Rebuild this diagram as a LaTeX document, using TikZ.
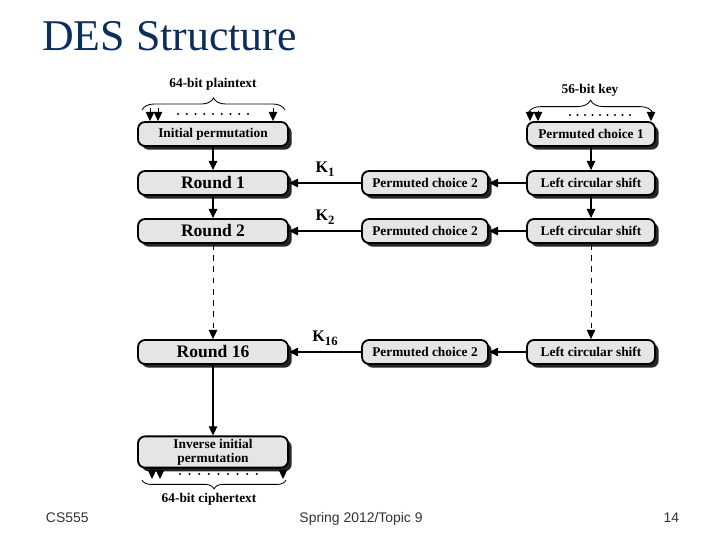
\documentclass[tikz,border=0pt]{standalone}
\usepackage{fontspec}
\setmainfont{Liberation Serif}
\newfontfamily\footfont{Liberation Sans}
\usetikzlibrary{arrows.meta,decorations.pathreplacing,shadows}
\definecolor{titleblue}{RGB}{12,46,92}
\definecolor{boxgray}{RGB}{229,229,229}
\definecolor{footgray}{RGB}{50,50,50}

\begin{document}
\begin{tikzpicture}[x=0.025cm, y=-0.025cm,
    blk/.style={draw=black, line width=1.3pt, rounded corners=5pt, fill=boxgray,
        drop shadow={shadow xshift=2.6pt, shadow yshift=-2.6pt, fill=black!85, opacity=1},
        font=\bfseries\fontsize{9.5}{10}\selectfont, inner sep=0pt, align=center},
    leftbox/.style={blk, minimum width=3.75cm, minimum height=0.6cm},
    rnd/.style={leftbox, font=\bfseries\fontsize{12.5}{14}\selectfont},
    midbox/.style={blk, minimum width=3.15cm, minimum height=0.6cm},
    keybox/.style={blk, minimum width=3.2cm, minimum height=0.6cm},
    arr/.style={-{Triangle[length=6.5pt,width=6pt]}, line width=0.9pt},
    dasharr/.style={arr, line width=0.6pt, dash pattern=on 4pt off 4pt},
    klab/.style={above=1pt, font=\bfseries\fontsize{11.5}{12}\selectfont},
    lab/.style={font=\bfseries\fontsize{9.5}{11}\selectfont},
    brc/.style={decorate, line width=0.6pt},
    foot/.style={font=\footfont\fontsize{9.9}{12}\selectfont, text=footgray, anchor=base}]
    \useasboundingbox (0,0) rectangle (720,540);

    % titel
    \node[anchor=base west, inner sep=0pt, text=titleblue,
          font=\fontsize{31.2}{36}\selectfont] (title) at (42,50) {DES Structure};

    % linke spalte: runden
    \node[leftbox] (ip)   at (213,134) {Initial permutation};
    \node[rnd]     (r1)   at (213,183) {Round 1};
    \node[rnd]     (r2)   at (213,231) {Round 2};
    \node[rnd]     (r16)  at (213,352) {Round 16};
    \node[leftbox, minimum height=0.78cm] (iip) at (213,452) {Inverse initial\\permutation};

    % mittlere spalte
    \node[midbox] (pca)  at (425,183) {Permuted choice 2};
    \node[midbox] (pcb)  at (425,231) {Permuted choice 2};
    \node[midbox] (pcc)  at (425,352) {Permuted choice 2};

    % rechte spalte: schluessel
    \node[keybox] (pc1)  at (591,134) {Permuted choice 1};
    \node[keybox] (lsa)  at (591,183) {Left circular shift};
    \node[keybox] (lsb)  at (591,231) {Left circular shift};
    \node[keybox] (lsc)  at (591,352) {Left circular shift};

    % senkrechte pfeile
    \draw[arr]     (ip)  -- (r1);
    \draw[arr]     (r1)  -- (r2);
    \draw[dasharr] (r2)  -- (r16);
    \draw[arr]     (r16) -- (iip);
    \draw[arr]     (pc1) -- (lsa);
    \draw[arr]     (lsa) -- (lsb);
    \draw[dasharr] (lsb) -- (lsc);

    % waagrechte pfeile mit teilschluesseln
    \draw[arr] (lsa) -- (pca);
    \draw[arr] (lsb) -- (pcb);
    \draw[arr] (lsc) -- (pcc);
    \draw[arr] (pca) -- node[klab] {K\raisebox{-0.55ex}{\fontsize{9}{9}\selectfont 1}} (r1);
    \draw[arr] (pcb) -- node[klab] {K\raisebox{-0.55ex}{\fontsize{9}{9}\selectfont 2}} (r2);
    \draw[arr] (pcc) -- node[klab] {K\raisebox{-0.55ex}{\fontsize{9}{9}\selectfont 16}} (r16);

    % eingang klartext
    \node[lab] (pt) at (213,84) {64-bit plaintext};
    \draw[brc, decoration={brace, amplitude=3mm}] (142,110) -- (285,110);
    \foreach \x in {150,158,273} {
        \coordinate (a\x) at (\x,108);
        \draw[arr, line width=0.7pt] (a\x) -- (a\x |- ip.north);
    }
    \foreach \i in {0,...,8}
        \fill (178+\i*8.75,114) circle (0.8pt);

    % eingang schluessel
    \node[lab] (key) at (590,90) {56-bit key};
    \draw[brc, decoration={brace, amplitude=3.2mm}] (528,113) -- (653,113);
    \foreach \x in {530,538,651} {
        \coordinate (b\x) at (\x,111);
        \draw[arr, line width=0.7pt] (b\x) -- (b\x |- pc1.north);
    }
    \foreach \i in {0,...,8}
        \fill (570+\i*7.5,115) circle (0.8pt);

    % ausgang chiffretext
    \foreach \x in {152,160,283} {
        \coordinate (c\x) at (\x,479);
        \draw[arr, line width=0.7pt] (c\x |- iip.south) -- (c\x);
    }
    \foreach \i in {0,...,8}
        \fill (180+\i*9.6,474) circle (0.8pt);
    \draw[brc, decoration={brace, amplitude=2.2mm}] (286,480) -- (142,480);
    \node[lab] (ct) at (209,499) {64-bit ciphertext};

    % fusszeile
    \node[foot, anchor=base west] (f1) at (41,522) {CS555};
    \node[foot] (f2) at (361,522) {Spring 2012/Topic 9};
    \node[foot, anchor=base east] (f3) at (684,522) {14};
\end{tikzpicture}
\end{document}
